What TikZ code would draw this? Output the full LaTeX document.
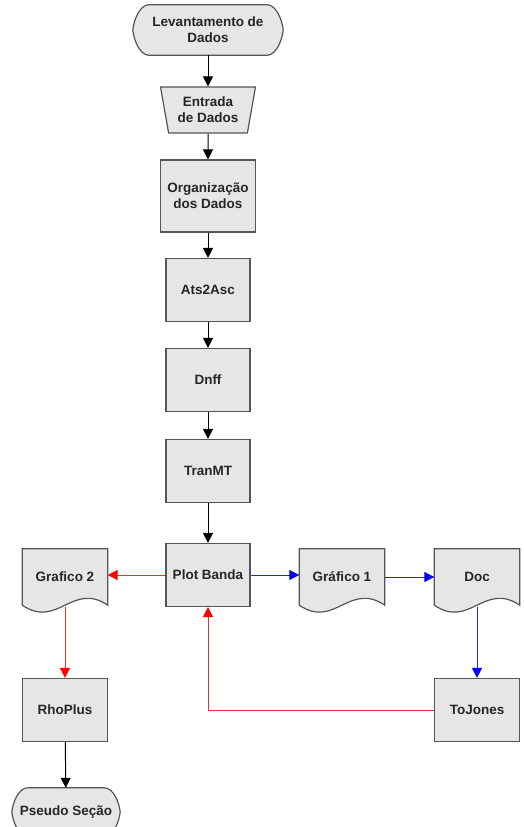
\documentclass[tikz,border=0pt]{standalone}
\usepackage{fontspec}
\setmainfont{Liberation Sans}
\usetikzlibrary{shapes.geometric,arrows.meta,backgrounds}

\definecolor{boxfill}{HTML}{E6E6E6}
\definecolor{boxline}{HTML}{555555}
\definecolor{linkred}{HTML}{DD3333}
\definecolor{linkblue}{HTML}{2A2AB0}

\tikzset{
  every node/.style={font=\fontsize{13.5}{16}\selectfont\bfseries,align=center,text=black!85},
  box/.style={rectangle,draw=boxline,fill=boxfill,line width=1.2pt,minimum width=84pt,minimum height=63pt},
  orgbox/.style={box,minimum width=95pt,minimum height=72pt},
  entrada/.style={trapezium,shape border rotate=180,trapezium stretches=true,
    draw=boxline,fill=boxfill,line width=1.2pt,minimum width=95pt,minimum height=46pt,
    trapezium left angle=78,trapezium right angle=78},
  terminal/.style={minimum width=150pt,minimum height=50pt,inner sep=0pt},
  docnode/.style={minimum width=85pt,minimum height=56pt,inner sep=0pt},
  outline/.style={draw=boxline,fill=boxfill,line width=1.2pt},
  arr/.style={-{Triangle[width=10pt,length=10pt]},line width=1pt},
  redarr/.style={arr,draw=linkred,-{Triangle[width=10pt,length=10pt,fill=red,color=red]}},
  bluearr/.style={arr,draw=linkblue,-{Triangle[width=10pt,length=10pt,fill=blue,color=blue]}}
}

\begin{document}
\begin{tikzpicture}[x=1pt,y=-1pt]
\useasboundingbox (0,0) rectangle (523,827);

% main column
\node[terminal] (lev) at (208,30) {Levantamento de\\Dados};
\node[entrada] (ent) at (208,110) {Entrada\\de Dados};
\node[orgbox] (org) at (208,196) {Organização\\dos Dados};
\node[box] (ats) at (208,290) {Ats2Asc};
\node[box] (dnff) at (208,380) {Dnff};
\node[box] (tran) at (208,471) {TranMT};
\node[box] (plot) at (208,575) {Plot Banda};

% side branches
\node[docnode] (graf2) at (65,577) {Grafico 2};
\node[docnode] (graf1) at (342,577) {Gráfico 1};
\node[docnode] (doc) at (477,577) {Doc};
\node[box,minimum width=85pt] (rho) at (65,710) {RhoPlus};
\node[box,minimum width=85pt] (tojones) at (477,710) {ToJones};
\node[terminal,minimum width=108pt,minimum height=48pt] (pseudo) at (66,812) {Pseudo Seção};

\begin{scope}[on background layer]
  \foreach \n in {lev,pseudo}
    \draw[outline] ([xshift=16pt]\n.north west) -- ([xshift=-16pt]\n.north east)
      .. controls ([xshift=-7pt]\n.north east) and ([xshift=-1pt,yshift=10pt]\n.east) .. (\n.east)
      .. controls ([xshift=-1pt,yshift=-10pt]\n.east) and ([xshift=-7pt]\n.south east) .. ([xshift=-16pt]\n.south east)
      -- ([xshift=16pt]\n.south west)
      .. controls ([xshift=7pt]\n.south west) and ([xshift=1pt,yshift=-10pt]\n.west) .. (\n.west)
      .. controls ([xshift=1pt,yshift=10pt]\n.west) and ([xshift=7pt]\n.north west) .. cycle;
  \foreach \n in {graf2,graf1,doc}
    \draw[outline] (\n.north west) -- (\n.north east) -- (\n.south east)
      .. controls +(-35pt,24pt) and +(35pt,-24pt) .. (\n.south west) -- cycle;
\end{scope}

% links
\draw[arr] (lev) -- (ent);
\draw[arr] (ent.south) -- (org.north);
\draw[arr] (org) -- (ats);
\draw[arr] (ats) -- (dnff);
\draw[arr] (dnff) -- (tran);
\draw[arr] (tran) -- (plot);
\draw[redarr] (plot.west) -- (plot.west -| graf2.east);
\draw[bluearr] (plot.east) -- (plot.east -| graf1.west);
\draw[bluearr] (graf1.east) -- (graf1.east -| doc.west);
\draw[bluearr] ([yshift=-2pt]doc.south) -- (tojones.north);
\draw[redarr] (tojones.west) -| (plot.south);
\draw[redarr] ([yshift=-2pt]graf2.south) -- (rho.north);
\draw[arr] (rho) -- (pseudo);
\end{tikzpicture}
\end{document}
